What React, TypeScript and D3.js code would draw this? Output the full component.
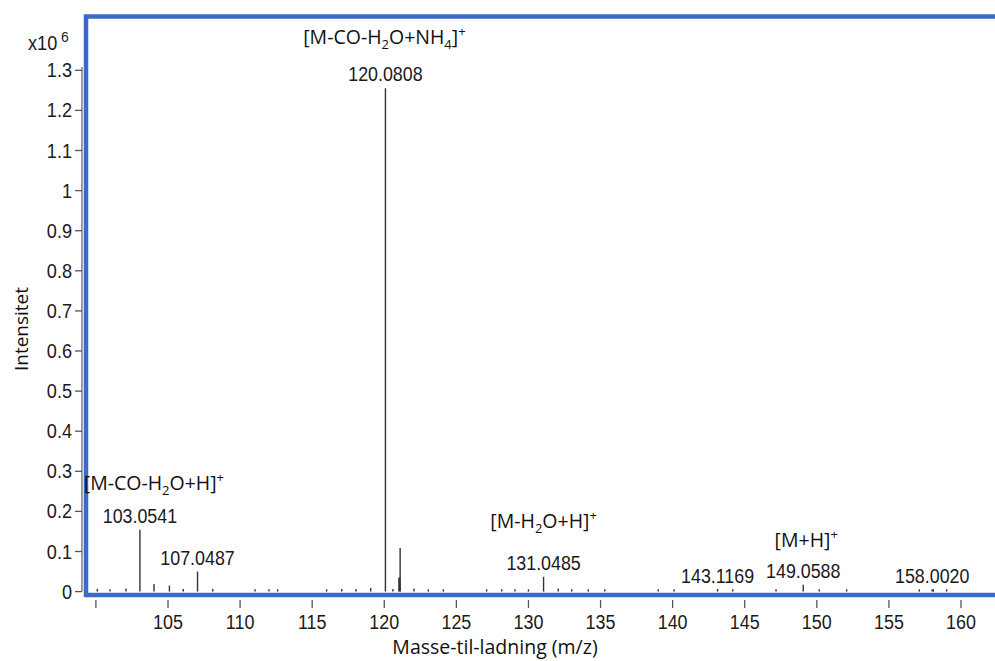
import React from "react";
import * as d3 from "d3";

// Spectrum peaks: m/z and intensity (x10^6)
const peakMz = [
  100.1, 100.98, 102.09, 103.0541, 104.03, 105.1, 106.06, 107.0487, 108.1,
  111.04, 112.0, 112.6, 116.0, 117.05, 118.04, 119.06, 120.0808, 120.6,
  121.05, 121.1, 122.06, 123.06, 124.1, 127.1, 128.15, 129.07, 130.0,
  131.0485, 132.07, 133.0, 134.15, 135.3, 139.0, 140.1, 143.1169, 144.17,
  147.17, 149.0588, 150.17, 152.07, 157.11, 158.002, 158.08, 159.0,
];
const peakIntensity = [
  0.003, 0.002, 0.004, 0.154, 0.019, 0.015, 0.003, 0.05, 0.003,
  0.002, 0.002, 0.002, 0.002, 0.003, 0.003, 0.005, 1.255, 0.003,
  0.035, 0.109, 0.004, 0.002, 0.002, 0.002, 0.002, 0.002, 0.002,
  0.037, 0.004, 0.002, 0.002, 0.002, 0.002, 0.002, 0.003, 0.002,
  0.002, 0.017, 0.002, 0.002, 0.002, 0.002, 0.002, 0.002,
];

// Labelled peaks
const labelMz = [103.0541, 107.0487, 120.0808, 131.0485, 143.1169, 149.0588, 158.002];
const labelText = ["103.0541", "107.0487", "120.0808", "131.0485", "143.1169", "149.0588", "158.0020"];
const labelIntensity = [0.154, 0.05, 1.255, 0.037, 0.003, 0.017, 0.002];

// Ion annotations: [prefix, sub, middle, sub2, suffix]
const ionMz = [103.0541, 120.0808, 131.0485, 149.0588];
const ionIntensity = [0.154, 1.255, 0.037, 0.017];
const ionParts = [
  ["[M-CO-H", "2", "O+H]", "", ""],
  ["[M-CO-H", "2", "O+NH", "4", "]"],
  ["[M-H", "2", "O+H]", "", ""],
  ["[M+H]", "", "", "", ""],
];

const xTicks = [100, 105, 110, 115, 120, 125, 130, 135, 140, 145, 150, 155, 160];
const xTickLabels = ["", "105", "110", "115", "120", "125", "130", "135", "140", "145", "150", "155", "160"];
const yTicks = [0, 0.1, 0.2, 0.3, 0.4, 0.5, 0.6, 0.7, 0.8, 0.9, 1, 1.1, 1.2, 1.3];
const yTickLabels = ["0", "0.1", "0.2", "0.3", "0.4", "0.5", "0.6", "0.7", "0.8", "0.9", "1", "1.1", "1.2", "1.3"];

const W = 995;
const H = 661;
const BLUE = "#3a6bc6";
const NUM_FONT = "'Liberation Sans', Arial, sans-serif";
const LBL_FONT = "'Open Sans', 'Noto Sans', sans-serif";

const ionDx = [14, -1, 0, 3];
const ionGap = [33, 37, 42, 31];

function Squeezed({ x, y, sx, size, anchor, children, fill = "#1a1a1a" }) {
  return (
    <g transform={`translate(${x},${y}) scale(${sx},1)`}>
      <text textAnchor={anchor} fontFamily={NUM_FONT} fontSize={size} fill={fill}>
        {children}
      </text>
    </g>
  );
}

export default function App() {
  const x = d3.scaleLinear().domain([100, 160]).range([95.9, 961]);
  const y = d3.scaleLinear().domain([0, 1.3]).range([591.6, 70.3]);

  const labelY = (v) => Math.min(y(v) - 7, y(0) - 8.5);

  return (
    <svg width={W} height={H} style={{ position: "absolute", left: 0, top: 0, background: "#fff" }}>
      <rect x={0} y={0} width={W} height={H} fill="#fff" />

      {/* peaks */}
      {peakMz.map((m, i) => (
        <line
          key={"p" + i}
          x1={x(m)}
          x2={x(m)}
          y1={y(0)}
          y2={y(peakIntensity[i]) - (peakIntensity[i] < 0.006 ? 1.5 : 0)}
          stroke="#333"
          strokeWidth={i === 18 ? 2.4 : 1.4}
        />
      ))}

      {/* blue frame */}
      <path
        d={`M${W + 10},16.5 L86,16.5 L86,595 L${W + 10},595`}
        fill="none"
        stroke={BLUE}
        strokeWidth={4.5}
      />

      {/* y axis */}
      <line x1={82} x2={82} y1={67} y2={y(0)} stroke="#888" strokeWidth={1.6} />
      {yTicks.map((t, i) => (
        <g key={"yt" + i}>
          <line x1={75} x2={82} y1={y(t)} y2={y(t)} stroke="#555" strokeWidth={1.3} />
          <Squeezed x={72} y={y(t) + 7} sx={0.93} size={19.5} anchor="end">
            {yTickLabels[i]}
          </Squeezed>
        </g>
      ))}
      <Squeezed x={28} y={50} sx={0.93} size={19.5} anchor="start">
        x10
      </Squeezed>
      <Squeezed x={61} y={42} sx={0.93} size={15} anchor="start">
        6
      </Squeezed>

      {/* x axis ticks */}
      {xTicks.map((t, i) => (
        <g key={"xt" + i}>
          <line x1={x(t)} x2={x(t)} y1={600} y2={608} stroke="#555" strokeWidth={1.3} />
          <Squeezed x={x(t)} y={629} sx={0.92} size={19.5} anchor="middle">
            {xTickLabels[i]}
          </Squeezed>
        </g>
      ))}

      {/* peak labels */}
      {labelMz.map((m, i) => (
        <Squeezed key={"l" + i} x={x(m)} y={labelY(labelIntensity[i])} sx={0.87} size={20.5} anchor="middle">
          {labelText[i]}
        </Squeezed>
      ))}

      {/* ion annotations */}
      {ionMz.map((m, i) => {
        const [a, s1, b, s2, c] = ionParts[i];
        return (
          <text
            key={"ion" + i}
            x={x(m) + ionDx[i]}
            y={labelY(ionIntensity[i]) - ionGap[i]}
            textAnchor="middle"
            fontFamily={LBL_FONT}
            fontSize={19.5}
            fill="#111"
          >
            <tspan>{a}</tspan>
            {s1 && (
              <tspan fontSize={13} dy={5}>
                {s1}
              </tspan>
            )}
            {b && <tspan dy={s1 ? -5 : 0}>{b}</tspan>}
            {s2 && (
              <tspan fontSize={13} dy={5}>
                {s2}
              </tspan>
            )}
            {c && <tspan dy={s2 ? -5 : 0}>{c}</tspan>}
            <tspan fontSize={13} dy={-8}>
              +
            </tspan>
          </text>
        );
      })}

      {/* axis titles */}
      <text
        transform="translate(28,329) rotate(-90)"
        textAnchor="middle"
        fontFamily={LBL_FONT}
        fontSize={19}
        fill="#111"
      >
        Intensitet
      </text>
      <text x={495} y={654} textAnchor="middle" fontFamily={LBL_FONT} fontSize={19.5} fill="#111">
        Masse-til-ladning (m/z)
      </text>
    </svg>
  );
}
